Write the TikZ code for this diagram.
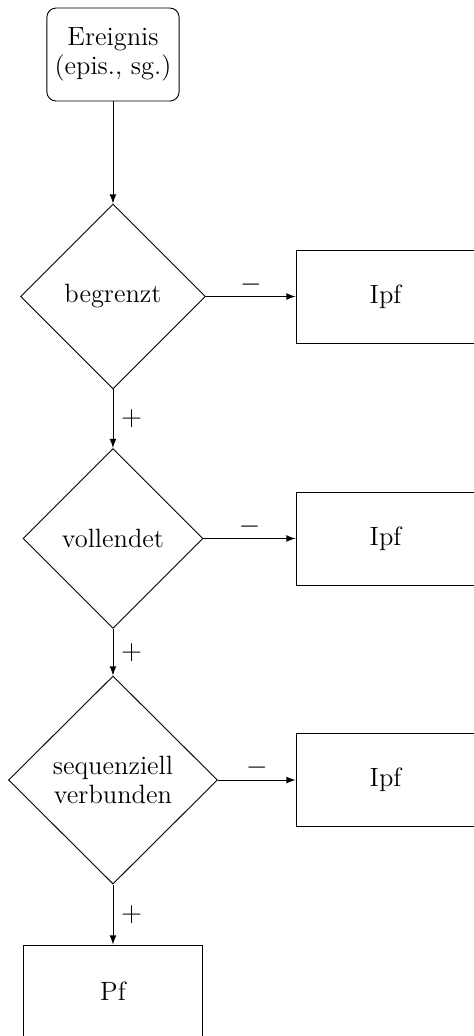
\documentclass[tikz,border=0pt]{standalone}
\usepackage{tikz}
\usetikzlibrary{positioning,calc,shapes.geometric}

\begin{document}
\begin{tikzpicture}[>=latex,font=\fontsize{11.5pt}{12.5pt}\selectfont]
				\useasboundingbox (0,0) rectangle (7.227,-15.828);
				\node[shape=rectangle,draw=black,rounded corners=4pt,minimum width=2.017cm,minimum height=1.421cm,align=center] (ev) at (1.726,-0.833) {Ereignis\\(epis., sg.)};
				\node[shape=diamond,draw=black,minimum width=2.826cm,minimum height=2.826cm,inner sep=0pt] (begr) at (1.726,-4.530) {begrenzt};
				\node[shape=diamond,draw=black,minimum width=2.750cm,minimum height=2.750cm,inner sep=0pt] (voll) at (1.726,-8.227) {vollendet};
				\node[shape=diamond,draw=black,minimum width=3.193cm,minimum height=3.178cm,inner sep=0pt,align=center] (seq) at (1.726,-11.917) {sequenziell\\verbunden};
				\node[shape=rectangle,draw=black,minimum width=2.735cm,minimum height=1.421cm] (ipf1) at (5.890,-4.530) {Ipf};
				\node[shape=rectangle,draw=black,minimum width=2.735cm,minimum height=1.421cm] (ipf2) at (5.890,-8.227) {Ipf};
				\node[shape=rectangle,draw=black,minimum width=2.735cm,minimum height=1.421cm] (ipf3) at (5.890,-11.917) {Ipf};
				\node[shape=rectangle,draw=black,minimum width=2.735cm,minimum height=1.421cm] (pf) at (1.726,-15.148) {Pf};

				\draw[->] (ev) -- (begr);
				\draw[->] (begr) -- node[right] {$+$} (voll);
				\draw[->] (voll) -- node[right] {$+$} (seq);
				\draw[->] (seq) -- node[right] {$+$} (pf);
				\draw[->] (begr) -- node[above,inner sep=1pt] {$-$} (ipf1);
				\draw[->] (voll) -- node[above,inner sep=1pt] {$-$} (ipf2);
				\draw[->] (seq) -- node[above,inner sep=1pt] {$-$} (ipf3);
			\end{tikzpicture}
\end{document}
